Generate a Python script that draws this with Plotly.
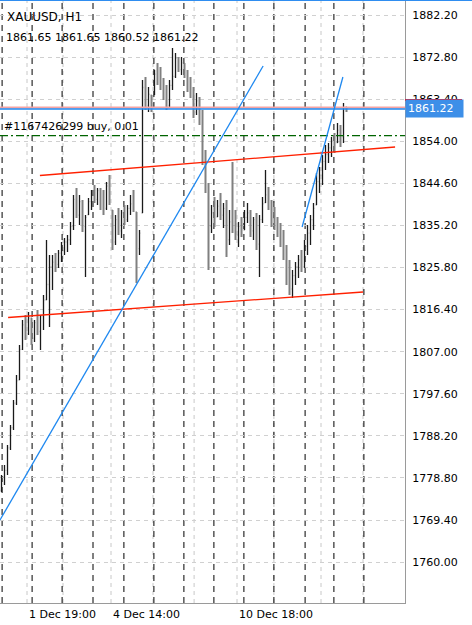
import plotly.graph_objects as go

symbol = "XAUUSD, H1"
order_text = "#1167426299 buy, 0.01"
order_price = 1855.24
bid_price = 1861.22
ask_price = 1861.55

highs = [1779.45, 1781.69, 1786.16, 1790.62, 1796.21, 1801.79, 1808.49, 1814.07, 1815.19, 1815.86,
         1814.52, 1814.07, 1816.31, 1815.19, 1819.66, 1831.94, 1828.59, 1828.59, 1829.04, 1829.71,
         1831.50, 1832.39, 1833.06, 1835.96, 1841.99, 1843.56, 1841.99, 1840.88, 1837.53, 1841.33,
         1843.11, 1844.23, 1843.56, 1843.56, 1843.11, 1844.90, 1846.46, 1838.64, 1837.53, 1839.09,
         1838.64, 1839.76, 1839.76, 1841.99, 1843.11, 1838.20, 1834.18, 1867.68, 1868.35, 1866.12,
         1864.33, 1869.92, 1871.48, 1870.58, 1868.13, 1866.56, 1867.68, 1874.83, 1873.71, 1872.82,
         1872.82, 1871.48, 1869.92, 1868.35, 1866.12, 1864.78, 1863.88, 1860.98, 1852.05, 1844.68,
         1839.76, 1841.55, 1840.88, 1842.44, 1840.21, 1840.88, 1838.64, 1849.37, 1838.64, 1835.96,
         1837.08, 1838.64, 1840.21, 1838.64, 1837.08, 1837.97, 1837.53, 1841.55, 1847.58, 1843.78,
         1840.88, 1839.31, 1837.08, 1835.74, 1834.18, 1830.83, 1827.48, 1825.24, 1827.03, 1828.59,
         1829.71, 1831.94, 1835.29, 1837.53, 1840.21, 1846.91, 1848.25, 1850.93, 1853.16, 1853.61,
         1854.95, 1855.84, 1858.08, 1857.63, 1862.54, 1861.65]
lows = [1775.66, 1777.22, 1779.45, 1785.04, 1789.51, 1795.09, 1800.67, 1807.37, 1809.61, 1810.72,
        1808.49, 1809.16, 1810.72, 1807.37, 1811.84, 1818.54, 1812.51, 1820.78, 1824.80, 1825.69,
        1827.03, 1828.59, 1829.26, 1830.83, 1834.18, 1836.86, 1835.29, 1833.73, 1823.68, 1837.53,
        1838.64, 1840.21, 1839.76, 1838.64, 1837.53, 1838.64, 1839.76, 1829.71, 1830.83, 1833.06,
        1832.39, 1835.29, 1835.96, 1837.53, 1838.20, 1822.34, 1828.59, 1837.97, 1860.98, 1860.53,
        1860.53, 1864.33, 1866.56, 1865.45, 1863.21, 1860.98, 1861.43, 1865.45, 1868.13, 1869.47,
        1868.80, 1868.13, 1865.00, 1863.66, 1859.19, 1859.86, 1857.63, 1848.70, 1842.44, 1825.24,
        1833.51, 1834.85, 1837.08, 1836.41, 1834.62, 1828.15, 1830.83, 1833.51, 1831.94, 1830.38,
        1832.61, 1834.18, 1835.74, 1832.61, 1831.94, 1829.71, 1823.68, 1835.74, 1840.21, 1838.64,
        1834.85, 1834.18, 1832.61, 1830.38, 1827.48, 1821.89, 1819.66, 1818.99, 1821.89, 1823.46,
        1824.80, 1825.69, 1828.59, 1830.83, 1834.18, 1839.76, 1842.44, 1844.23, 1847.58, 1849.14,
        1850.48, 1851.38, 1853.61, 1852.72, 1853.61, 1860.52]
opens = [1776.0, 1779.0, 1780.5, 1785.5, 1790.0, 1795.5, 1800.7, 1807.5, 1813.0, 1811.0,
         1814.5, 1810.0, 1813.5, 1811.5, 1815.0, 1818.6, 1822.0, 1826.0, 1827.0, 1826.5,
         1829.0, 1829.5, 1831.5, 1832.0, 1835.0, 1841.0, 1837.5, 1840.5, 1835.0, 1837.6,
         1840.5, 1842.0, 1841.0, 1843.0, 1840.0, 1839.0, 1844.0, 1838.6, 1831.5, 1836.5,
         1834.0, 1838.0, 1836.5, 1839.0, 1840.0, 1838.2, 1830.0, 1838.0, 1866.0, 1862.0,
         1864.3, 1864.4, 1869.0, 1867.5, 1866.0, 1864.0, 1862.0, 1866.5, 1868.5, 1872.5,
         1870.0, 1871.4, 1869.0, 1866.0, 1864.5, 1860.5, 1863.0, 1858.5, 1850.0, 1843.5,
         1835.0, 1838.0, 1837.1, 1839.5, 1837.5, 1839.0, 1832.0, 1836.0, 1835.0, 1833.0,
         1835.0, 1834.2, 1837.0, 1838.0, 1834.0, 1836.5, 1831.0, 1836.5, 1840.3, 1842.0,
         1840.0, 1836.0, 1835.5, 1833.5, 1831.5, 1829.0, 1823.0, 1821.0, 1824.0, 1826.0,
         1827.5, 1826.0, 1830.5, 1833.5, 1836.5, 1839.8, 1845.0, 1846.5, 1849.5, 1851.0,
         1852.5, 1854.0, 1853.7, 1856.5, 1855.0, 1861.65]
closes = [1779.0, 1780.5, 1785.5, 1790.0, 1795.5, 1800.5, 1807.5, 1813.0, 1811.0, 1814.5,
          1810.0, 1813.5, 1811.5, 1815.0, 1818.5, 1822.0, 1826.0, 1827.0, 1826.5, 1829.0,
          1829.5, 1831.5, 1832.0, 1835.0, 1841.0, 1837.5, 1840.5, 1835.0, 1837.0, 1840.5,
          1842.0, 1841.0, 1843.0, 1840.0, 1839.0, 1844.0, 1840.5, 1831.5, 1836.5, 1834.0,
          1838.0, 1836.5, 1839.0, 1840.0, 1839.0, 1830.0, 1833.5, 1866.0, 1862.0, 1864.5,
          1863.5, 1869.0, 1867.5, 1866.0, 1864.0, 1862.0, 1866.5, 1868.5, 1872.5, 1870.0,
          1871.5, 1869.0, 1866.0, 1864.5, 1860.5, 1863.0, 1858.5, 1850.0, 1843.5, 1835.0,
          1838.0, 1836.0, 1839.5, 1837.5, 1839.0, 1832.0, 1836.0, 1835.0, 1833.0, 1835.0,
          1834.0, 1837.0, 1838.0, 1834.0, 1836.5, 1831.0, 1836.5, 1840.0, 1842.0, 1840.0,
          1836.0, 1835.5, 1833.5, 1831.5, 1829.0, 1823.0, 1821.0, 1824.0, 1826.0, 1827.5,
          1826.0, 1830.5, 1833.5, 1836.5, 1839.0, 1845.0, 1846.5, 1849.5, 1851.0, 1852.5,
          1854.0, 1853.0, 1856.5, 1855.0, 1861.5, 1861.22]
bars = list(range(len(closes)))

y_ticks = [1760.00, 1769.40, 1778.80, 1788.20, 1797.60, 1807.00, 1816.40, 1825.80,
           1835.20, 1844.60, 1854.00, 1863.40, 1872.80, 1882.20]

day_separators = [0.2, 10.2, 20.2, 30.5, 40.8, 50.8, 60.8, 70.8, 80.8, 90.8, 101.2, 110.8, 120.8]
time_grid = [8.5, 20.5, 36.5, 50.5, 64.2, 78.5, 90.8, 106.5, 120.5]
time_labels = ["1 Dec 19:00", "4 Dec 14:00", "10 Dec 18:00"]
time_label_pos = [8.5, 36.5, 78.5]

# trend lines: (bar0, price0, bar1, price1)
red_lines = [(12.8, 1846.35, 131.2, 1852.72), (2.2, 1814.63, 120.5, 1820.33)]
blue_lines = [(-0.5, 1769.40, 87.2, 1870.81), (100.2, 1834.85, 113.8, 1868.35)]

X_RANGE = [-0.5, 134.5]
Y_RANGE = [1750.86, 1885.55]
FONT = "DejaVu Sans"

fig = go.Figure()
fig.add_trace(go.Ohlc(
    x=bars, open=opens, high=highs, low=lows, close=closes,
    increasing=dict(line=dict(color="#1a1a1a", width=1.3)),
    decreasing=dict(line=dict(color="#808080", width=2)),
    tickwidth=0.25, showlegend=False, hoverinfo="skip",
))

shapes = []
for gx in time_grid:
    shapes.append(dict(type="line", xref="x", yref="paper", x0=gx, x1=gx, y0=0, y1=1,
                       line=dict(color="#c8c8c8", width=1, dash="4px,4px"), layer="below"))
for sx in day_separators:
    shapes.append(dict(type="line", xref="x", yref="paper", x0=sx, x1=sx, y0=0, y1=1,
                       line=dict(color="#000000", width=1, dash="6px,5px"), layer="below"))
shapes.append(dict(type="line", xref="paper", yref="y", x0=0, x1=1, y0=order_price, y1=order_price,
                   line=dict(color="#006400", width=1.3, dash="8px,3px,2px,3px")))
shapes.append(dict(type="line", xref="paper", yref="y", x0=0, x1=1, y0=ask_price, y1=ask_price,
                   line=dict(color="#f5a3a3", width=2)))
shapes.append(dict(type="line", xref="paper", yref="y", x0=0, x1=1, y0=bid_price, y1=bid_price,
                   line=dict(color="#1e88f0", width=1.5)))
for (x0, y0, x1, y1) in red_lines:
    shapes.append(dict(type="line", xref="x", yref="y", x0=x0, y0=y0, x1=x1, y1=y1,
                       line=dict(color="#ff2000", width=1.3)))
for (x0, y0, x1, y1) in blue_lines:
    shapes.append(dict(type="line", xref="x", yref="y", x0=x0, y0=y0, x1=x1, y1=y1,
                       line=dict(color="#1e88f0", width=1.3)))
# top border
shapes.append(dict(type="line", xref="paper", yref="paper", x0=0, x1=472 / 405, y0=1, y1=1,
                   line=dict(color="#2f8df0", width=2)))
# red marker above price label
red_mark_y = (1863.2 - Y_RANGE[0]) / (Y_RANGE[1] - Y_RANGE[0])
shapes.append(dict(type="line", xref="paper", yref="paper", x0=1.0, x1=1.0 + 57 / 405,
                   y0=red_mark_y, y1=red_mark_y, line=dict(color="#ff0000", width=2)))

last = len(closes) - 1
header = f"{opens[last]:.2f} {highs[last]:.2f} {lows[last]:.2f} {closes[last]:.2f}"

annotations = [
    dict(text=symbol, xref="paper", yref="paper", x=5 / 405, y=1 - 17 / 603, xanchor="left",
         yanchor="middle", showarrow=False, font=dict(family=FONT, size=12, color="#000")),
    dict(text=header, xref="paper", yref="paper", x=4 / 405, y=1 - 37 / 603, xanchor="left",
         yanchor="middle", showarrow=False, font=dict(family=FONT, size=11, color="#000")),
    dict(text=order_text, xref="paper", yref="y", x=2 / 405, y=order_price, yshift=9,
         xanchor="left", yanchor="middle", showarrow=False,
         font=dict(family=FONT, size=11, color="#000")),
    dict(text=f"{bid_price:.2f}", xref="paper", yref="y", x=1.0, y=bid_price, xanchor="left",
         yanchor="middle", showarrow=False, bgcolor="#3d8fe8", borderpad=2, width=53,
         align="left", font=dict(family=FONT, size=11, color="#ffffff")),
]
for lbl, pos in zip(time_labels, time_label_pos):
    annotations.append(dict(text=lbl, xref="x", yref="paper", x=pos, y=0, yshift=-3,
                            xanchor="left", yanchor="top", showarrow=False,
                            font=dict(family=FONT, size=11, color="#000")))

fig.update_layout(
    width=472, height=625,
    margin=dict(l=0, r=67, t=0, b=22),
    paper_bgcolor="#ffffff", plot_bgcolor="#ffffff",
    shapes=shapes, annotations=annotations,
    xaxis=dict(range=X_RANGE, showgrid=False, zeroline=False, showticklabels=False,
               showline=True, linecolor="#9a9a9a", linewidth=1, rangeslider=dict(visible=False),
               fixedrange=True),
    yaxis=dict(range=Y_RANGE, side="right", tickvals=y_ticks,
               ticktext=[f"{v:.2f}" for v in y_ticks], showgrid=True, gridcolor="#d0d0d0",
               griddash="4px,4px", zeroline=False, showline=True, linecolor="#9a9a9a",
               linewidth=1, ticks="", ticklabelstandoff=4,
               tickfont=dict(family=FONT, size=11, color="#000"), fixedrange=True),
    showlegend=False,
)

fig.write_html("out.html", config={"displayModeBar": False})
